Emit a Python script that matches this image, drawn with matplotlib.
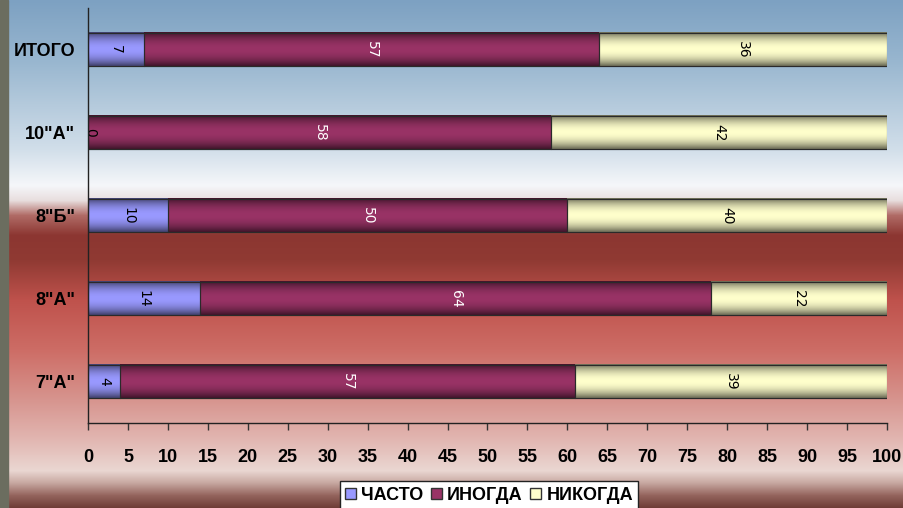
import numpy as np
import matplotlib
matplotlib.use("Agg")
import matplotlib.pyplot as plt
from matplotlib.colors import to_rgb
from matplotlib.patches import Rectangle

categories = ['7"А"', '8"А"', '8"Б"', '10"А"', 'ИТОГО']
series_names = ['ЧАСТО', 'ИНОГДА', 'НИКОГДА']
chasto = [4, 14, 10, 0, 7]
inogda = [57, 64, 50, 58, 57]
nikogda = [39, 22, 40, 42, 36]
x_ticks = list(range(0, 101, 5))

colors = ['#9999ff', '#993366', '#ffffcc']
label_colors = ['black', 'white', 'black']

FONT = ['Liberation Sans', 'DejaVu Sans']
plt.rcParams['font.family'] = FONT

W, H = 904, 508
fig = plt.figure(figsize=(W / 100, H / 100), dpi=100)

# background gradient
bg = fig.add_axes([0, 0, 1, 1], zorder=-10)
stops = [(0, '#7da1c2'), (60, '#98b6cf'), (150, '#d2dfea'), (185, '#f5f7fa'),
         (200, '#e8dede'), (215, '#b06b66'), (235, '#8c3631'), (260, '#903a33'),
         (300, '#bf524c'), (350, '#cd6d66'), (400, '#d7958f'), (440, '#e2b7b2'),
         (470, '#ead7d2'), (482, '#c9aaa3'), (495, '#94645d'), (508, '#6c3a34')]
ys = np.arange(H)
sy = [s[0] for s in stops]
cols = np.array([to_rgb(s[1]) for s in stops])
grad = np.stack([np.interp(ys, sy, cols[:, k]) for k in range(3)], axis=-1)
img = np.repeat(grad[:, None, :], 2, axis=1)
bg.imshow(img, aspect='auto', extent=[0, 1, 1, 0], interpolation='bilinear')
bg.set_xlim(0, 1)
bg.set_ylim(1, 0)
bg.add_patch(Rectangle((0, 0), 8 / W, 1, color='#6b6d5f', transform=bg.transAxes))
bg.axis('off')

ax = fig.add_axes([88 / W, (H - 423) / H, (887 - 88) / W, (423 - 8) / H])
ax.set_facecolor('none')

y = np.arange(len(categories))
height = 0.4
data = [chasto, inogda, nikogda]
left = np.zeros(len(categories))
handles = []
t = np.linspace(-1, 1, 64)
w = np.clip(1 - np.abs(t) ** 2.0, 0, 1)[:, None]
for vals, c, lc, name in zip(data, colors, label_colors, series_names):
    vals = np.array(vals, dtype=float)
    bars = ax.barh(y, vals, left=left, height=height, color=c, edgecolor='#2a2a2a',
                   linewidth=0.8, label=name, zorder=2)
    handles.append(bars)
    base = np.array(to_rgb(c))
    dark = base * 0.42
    shade = dark + (base - dark) * w
    for b, v in zip(bars, vals):
        if v <= 0:
            continue
        x0, y0 = b.get_x(), b.get_y()
        x1, y1 = x0 + b.get_width(), y0 + b.get_height()
        ax.imshow(shade[:, None, :], aspect='auto', origin='lower',
                  extent=[x0, x1, y0, y1], interpolation='bilinear', zorder=2.5)
        ax.add_patch(Rectangle((x0, y0), x1 - x0, y1 - y0, fill=False,
                               edgecolor='#2a2a2a', linewidth=0.8, zorder=3))
    for yi, v, l in zip(y, vals, left):
        ax.text(l + v / 2 if v > 0 else l + 0.3, yi, f'{int(v)}', rotation=270,
                ha='center', va='center', fontsize=10, color=lc, zorder=4,
                family=['DejaVu Sans'])
    left = left + vals

ax.set_xlim(0, 100)
ax.set_ylim(-0.5, 4.5)
ax.set_xticks(x_ticks)
ax.set_xticklabels([str(v) for v in x_ticks], fontsize=13, fontweight='bold')
ax.set_yticks(y)
ax.set_yticklabels(categories, fontsize=13, fontweight='bold')
ax.tick_params(axis='x', direction='out', length=5, width=1, color='#333333', pad=14)
ax.tick_params(axis='y', length=0, pad=9)
for s in ['top', 'right']:
    ax.spines[s].set_visible(False)
for s in ['left', 'bottom']:
    ax.spines[s].set_color('#222222')
    ax.spines[s].set_linewidth(1)
    ax.spines[s].set_zorder(5)

leg = fig.legend(handles=[plt.Rectangle((0, 0), 1, 1, facecolor=c, edgecolor='#333333')
                          for c in colors],
                 labels=series_names, loc='lower center', bbox_to_anchor=(0.541, -0.02),
                 ncol=3, frameon=True, fancybox=False, framealpha=1,
                 handlelength=0.6, handleheight=0.6, handletextpad=0.3, columnspacing=0.4,
                 borderpad=0.3, prop={'size': 13, 'weight': 'bold', 'family': FONT})
leg.get_frame().set_edgecolor('#222222')
leg.get_frame().set_linewidth(1)

fig.savefig('out.png', dpi=100)
